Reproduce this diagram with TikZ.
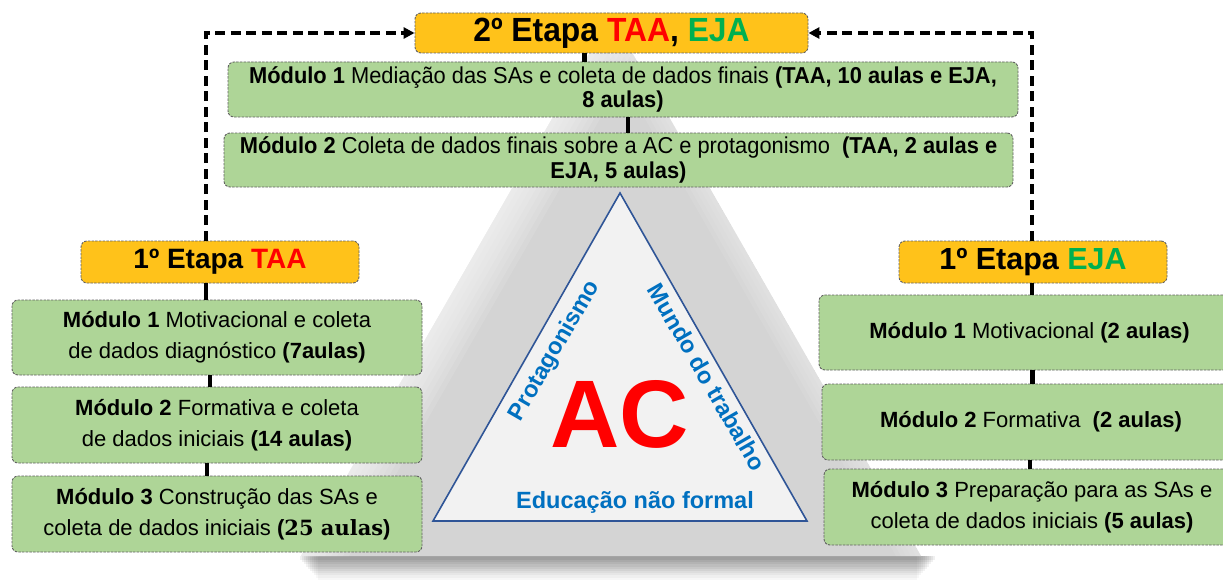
\documentclass[tikz,border=0pt]{standalone}
\usepackage{fontspec}
\setmainfont{Liberation Sans}
\newfontfamily\narrowfont[FakeStretch=0.95]{Liberation Sans}
\newfontfamily\slabfont{DejaVu Serif}
\usetikzlibrary{arrows.meta}
\definecolor{stageY}{HTML}{FFC21A}
\definecolor{modG}{HTML}{AED597}
\definecolor{redT}{HTML}{FF0000}
\definecolor{greenT}{HTML}{00B050}
\definecolor{blueT}{HTML}{0070C0}
\definecolor{triB}{HTML}{2F5597}
\tikzset{
  boxbase/.style={draw=black!62, dash pattern=on 2.5pt off 1.2pt, line width=0.9pt, rounded corners=6pt, inner sep=0pt, align=center},
  stagebox/.style={boxbase, fill=stageY},
  modbox/.style={boxbase, fill=modG},
  link/.style={line width=4.4pt, black},
  loopline/.style={line width=4.4pt, dash pattern=on 10pt off 5.5pt, -{Triangle[length=11pt,width=11pt]}},
  bluelab/.style={text=blueT, font=\fontsize{23.5}{25}\selectfont\bfseries, inner sep=0pt}
}
\begin{document}
\begin{tikzpicture}[x=1pt,y=-1pt]
\useasboundingbox (0,0) rectangle (1223,586);
% soft shadow under the pyramid
\foreach \i/\o in {0/0.06,1/0.06,2/0.05,3/0.05,4/0.05,5/0.05,6/0.04,7/0.04,8/0.03,9/0.03}{
  \fill[black, opacity=\o] (300+\i*2,556) rectangle (935-\i*2,560+\i*2.2);
}
% gray pyramid behind
\fill[black!17] (611,16) -- (921,556) -- (301,556) -- cycle;
\begin{scope}
  \clip (611,16) -- (921,556) -- (301,556) -- cycle;
  \foreach \d in {6,12,...,48}{
    \fill[white, opacity=0.11] (301,556) -- (611,16) -- (611+\d,16) -- (301+\d,556) -- cycle;
  }
  \foreach \d in {5,10,...,25}{
    \fill[white, opacity=0.08] (921,556) -- (611,16) -- (611-\d,16) -- (921-\d,556) -- cycle;
  }
\end{scope}
% inner triangle
\draw[triB, line width=1.6pt, fill=black!5] (620,193) -- (807,521) -- (433,521) -- cycle;
\node[text=redT, font=\fontsize{96}{96}\selectfont\bfseries, inner sep=0pt] (ac) at (620,414) {AC};
\node[bluelab, rotate=60] (prot) at (555,351) {Protagonismo};
\node[bluelab, rotate=-60] (mundo) at (707,377) {Mundo do trabalho};
\node[bluelab] (edu) at (635,502) {Educação não formal};

% second stage
\node[stagebox, minimum width=393pt, minimum height=40pt, font=\fontsize{33.5}{34}\narrowfont\bfseries] (hdr2) at (611.5,33) {2º Etapa \textcolor{redT}{TAA}, \textcolor{greenT}{EJA}};
\node[modbox, minimum width=790pt, minimum height=55pt, font=\fontsize{23}{24.5}\narrowfont] (t1) at (623,89.5) {\textbf{Módulo 1} Mediação das SAs e coleta de dados finais \textbf{(TAA, 10 aulas e EJA,}\\\textbf{8 aulas)}};
\node[modbox, minimum width=789pt, minimum height=54pt, font=\fontsize{23}{24.5}\narrowfont] (t2) at (618.5,160) {\textbf{Módulo 2} Coleta de dados finais sobre a AC e protagonismo\ \ \textbf{(TAA, 2 aulas e}\\\textbf{EJA, 5 aulas)}};

% left column
\node[stagebox, minimum width=278pt, minimum height=42pt, font=\fontsize{28}{30}\selectfont\bfseries] (hl) at (220,262) {1º Etapa \textcolor{redT}{TAA}};
\node[modbox, minimum width=410pt, minimum height=75pt, font=\fontsize{22}{31}\selectfont] (l1) at (217,337.5) {\textbf{Módulo 1} Motivacional e coleta\\de dados diagnóstico \textbf{(7aulas)}};
\node[modbox, minimum width=410pt, minimum height=76pt, font=\fontsize{22}{31}\selectfont] (l2) at (217,425) {\textbf{Módulo 2} Formativa e coleta\\de dados iniciais \textbf{(14 aulas)}};
\node[modbox, minimum width=410pt, minimum height=76pt, font=\fontsize{22}{31}\selectfont] (l3) at (217,514) {\textbf{Módulo 3} Construção das SAs e\\coleta de dados iniciais \textbf{(}{\slabfont\bfseries\fontsize{21}{31}\selectfont 25 aulas}\textbf{)}};

% right column
\node[stagebox, minimum width=268pt, minimum height=42pt, font=\fontsize{30.5}{32}\selectfont\bfseries] (hr) at (1033,262) {1º Etapa \textcolor{greenT}{EJA}};
\node[modbox, minimum width=421pt, minimum height=75pt, font=\fontsize{22}{31}\selectfont] (r1) at (1029.5,332.5) {\textbf{Módulo 1} Motivacional \textbf{(2 aulas)}};
\node[modbox, minimum width=418pt, minimum height=76pt, font=\fontsize{22}{31}\selectfont] (r2) at (1031,422) {\textbf{Módulo 2} Formativa\ \ \textbf{(2 aulas)}};
\node[modbox, minimum width=416pt, minimum height=76pt, font=\fontsize{22}{31}\selectfont] (r3) at (1032,507) {\textbf{Módulo 3} Preparação para as SAs e\\coleta de dados iniciais \textbf{(5 aulas)}};

% solid links
\draw[link] ([xshift=-27pt]hdr2.south) -- ([xshift=-27pt]hdr2.south |- t1.north);
\draw[link] ([xshift=5pt]t1.south) -- ([xshift=5pt]t1.south |- t2.north);
\draw[link] ([xshift=-14pt]hl.south) -- ([xshift=-14pt]hl.south |- l1.north);
\draw[link] ([xshift=-7pt]l1.south) -- ([xshift=-7pt]l1.south |- l2.north);
\draw[link] ([xshift=-10pt]l2.south) -- ([xshift=-10pt]l2.south |- l3.north);
\draw[link] ([xshift=-1pt]hr.south) -- ([xshift=-1pt]hr.south |- r1.north);
\draw[link] ([xshift=3pt]r1.south) -- ([xshift=3pt]r1.south |- r2.north);
\draw[link] ([xshift=-1pt]r2.south) -- ([xshift=-1pt]r2.south |- r3.north);

% dashed feedback arrows
\draw[loopline] ([xshift=-14pt]hl.north) -- ([xshift=-14pt]hl.north |- hdr2.west) -- (hdr2.west);
\draw[loopline] ([xshift=-1pt]hr.north) -- ([xshift=-1pt]hr.north |- hdr2.east) -- (hdr2.east);
\end{tikzpicture}
\end{document}
